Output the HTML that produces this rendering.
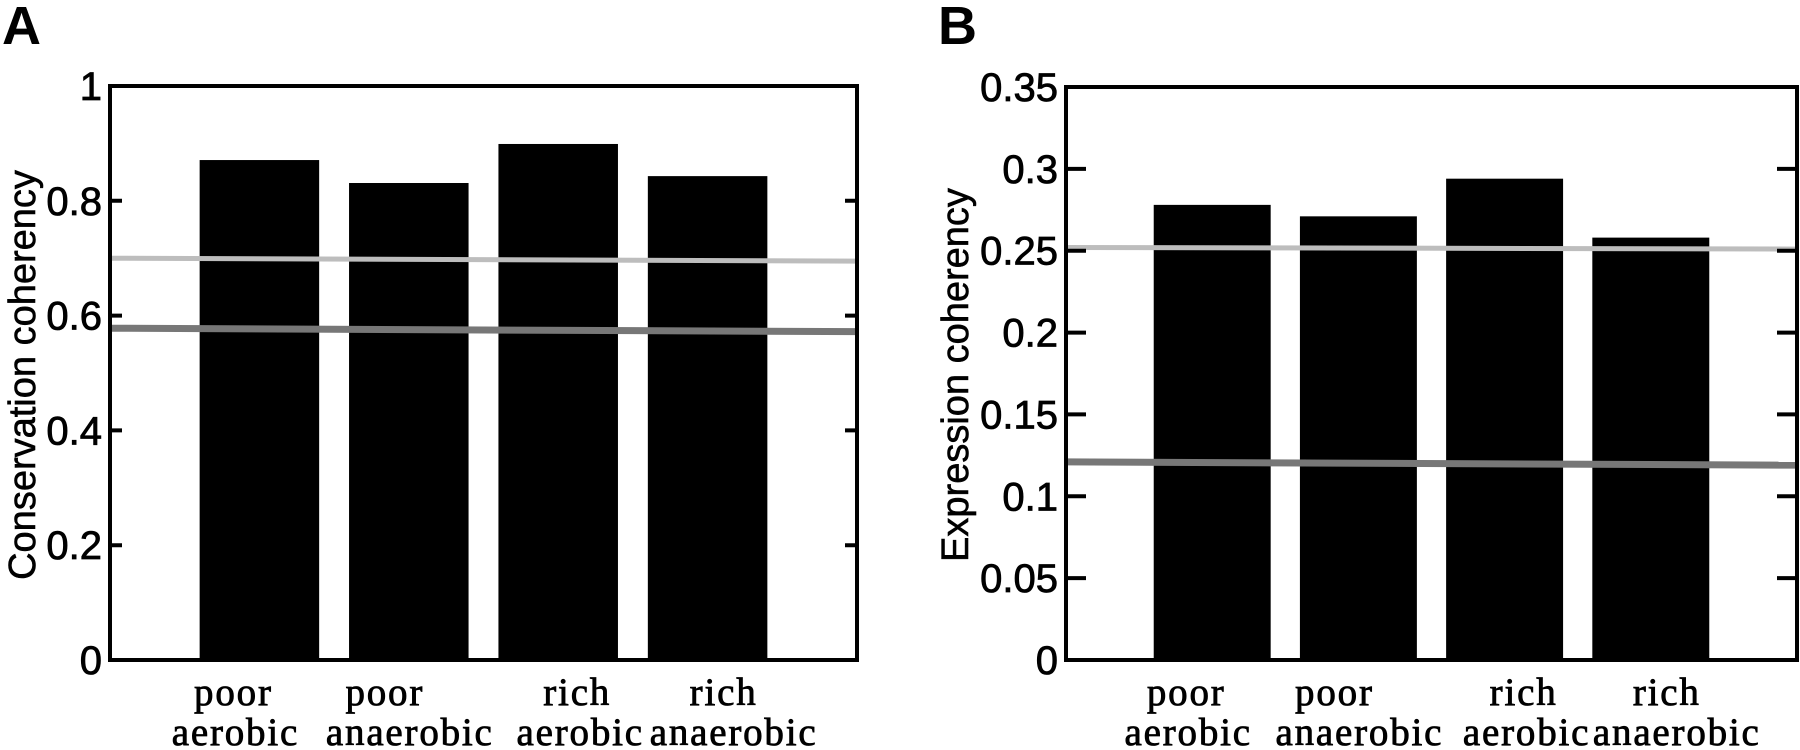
<!DOCTYPE html>
<html><head><meta charset="utf-8"><style>
html,body{margin:0;padding:0;background:#fff;}
svg{display:block;}
.tick{font-family:"Liberation Sans",sans-serif;font-size:40px;fill:#000;stroke:#000;stroke-width:0.8px;}
.cat{font-family:"Liberation Serif",serif;font-size:39px;fill:#000;stroke:#000;stroke-width:0.8px;letter-spacing:1.8px;}
.ylab{font-family:"Liberation Sans",sans-serif;font-size:38px;fill:#000;stroke:#000;stroke-width:0.6px;}
.panel{font-family:"Liberation Sans",sans-serif;font-size:54px;font-weight:bold;fill:#000;}
</style></head><body>
<svg id="chart" width="1800" height="750" viewBox="0 0 1800 750"></svg>
<script>
const categoriesTop = ["poor","poor","rich","rich"];
const categoriesBottom = ["aerobic","anaerobic","aerobic","anaerobic"];
const valuesA = [0.871, 0.831, 0.899, 0.843];
const refLightA = [0.700, 0.695];
const refDarkA = [0.578, 0.572];
const ticksA = [0, 0.2, 0.4, 0.6, 0.8, 1];
const tickLabelsA = ["0","0.2","0.4","0.6","0.8","1"];
const valuesB = [0.278, 0.271, 0.294, 0.258];
const refLightB = [0.252, 0.251];
const refDarkB = [0.121, 0.119];
const ticksB = [0, 0.05, 0.1, 0.15, 0.2, 0.25, 0.3, 0.35];
const tickLabelsB = ["0","0.05","0.1","0.15","0.2","0.25","0.3","0.35"];
const topShift = [-26, -24, 19, 16];
const bottomShift = [-24, 1, 22, 26];

const svg = document.getElementById('chart');
const NS = "http://www.w3.org/2000/svg";
function mk(tag, attrs, parent){
  const e = document.createElementNS(NS, tag);
  for (const k in attrs) e.setAttribute(k, attrs[k]);
  (parent||svg).appendChild(e);
  return e;
}
function panel(cfg){
  const g = mk('g', {});
  
  
  const xs = v => cfg.left + (v/5)*(cfg.right-cfg.left);
  const ys = v => cfg.bottom - (v/cfg.ymax)*(cfg.bottom-cfg.top);
  cfg.values.forEach((v,i)=>{
    const b = mk('rect', {x: xs(i+1-0.4), y: ys(v), width: xs(0.8)-xs(0), height: ys(0)-ys(v), fill:'#000'}, g);
    
    
  });
  const l1 = mk('line', {x1: cfg.left, x2: cfg.right, y1: ys(cfg.light[0]), y2: ys(cfg.light[1]), stroke:'#bdbdbd', 'stroke-width':5}, g);
  
  
  const l2 = mk('line', {x1: cfg.left, x2: cfg.right, y1: ys(cfg.dark[0]), y2: ys(cfg.dark[1]), stroke:'#777', 'stroke-width':7}, g);
  
  
  const box = mk('rect', {x: cfg.left, y: cfg.top, width: cfg.right-cfg.left, height: cfg.bottom-cfg.top, fill:'none', stroke:'#000', 'stroke-width':4}, g);
  
  
  cfg.ticks.forEach((t,i)=>{
    const y = ys(t);
    if (i>0 && i<cfg.ticks.length-1){
      const tk = mk('path', {d:`M${cfg.left},${y}h${cfg.tl}M${cfg.right},${y}h${-cfg.tl}`, stroke:'#000','stroke-width':4}, g);
      
      
    }
    const tx = mk('text', {x: cfg.left-8, y: y+14, 'text-anchor':'end', class:'tick'}, g);
    tx.textContent = cfg.labels[i];
    
    
  });
  categoriesTop.forEach((c,i)=>{
    const t1 = mk('text', {x: xs(i+1)+topShift[i], y: 705, 'text-anchor':'middle', class:'cat'}, g);
    t1.textContent = c;
    
    
    const t2 = mk('text', {x: xs(i+1)+bottomShift[i], y: 745, 'text-anchor':'middle', class:'cat'}, g);
    t2.textContent = categoriesBottom[i];
    
    
  });
  const yl = mk('text', {x: cfg.ylx, y: 375, 'text-anchor':'middle', class:'ylab', transform:`rotate(-90 ${cfg.ylx} 375)`}, g);
  yl.textContent = cfg.ylabel;
  
  
  const pl = mk('text', {x: cfg.px, y: 44, class:'panel'}, g);
  pl.textContent = cfg.letter;
  
  
}
panel({name:'panel-a', left:110, right:857, top:86, bottom:660, ymax:1, values:valuesA, light:refLightA, dark:refDarkA, ticks:ticksA, labels:tickLabelsA, tl:12, ylx:35, ylabel:'Conservation coherency', letter:'A', px:2});
panel({name:'panel-b', left:1066, right:1797, top:87, bottom:660, ymax:0.35, values:valuesB, light:refLightB, dark:refDarkB, ticks:ticksB, labels:tickLabelsB, tl:20, ylx:968, ylabel:'Expression coherency', letter:'B', px:938});
</script>
</body></html>
